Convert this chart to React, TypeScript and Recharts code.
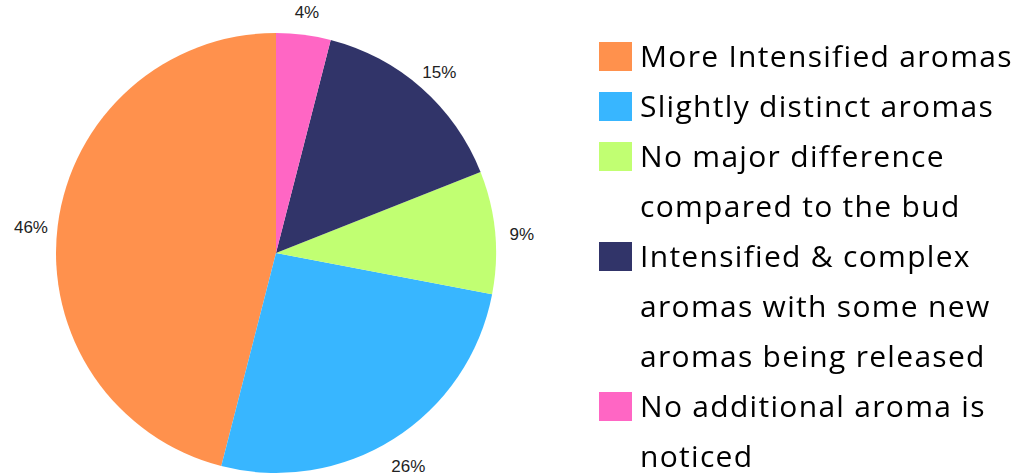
import { PieChart, Pie, Cell } from 'recharts';

const categories = [
  'More Intensified aromas',
  'Slightly distinct aromas',
  'No major difference compared to the bud',
  'Intensified & complex aromas with some new aromas being released',
  'No additional aroma is noticed',
];
const shares = [46, 26, 9, 15, 4];
const colors = ['#FF914D', '#38B6FF', '#C1FF72', '#313469', '#FF66C4'];

const data = categories.map((name, i) => ({ name, value: shares[i], fill: colors[i] }));

const RAD = Math.PI / 180;

// percent label just outside the rim
const renderLabel = (p: any) => {
  const r = p.outerRadius + 27;
  const x = p.cx + r * Math.cos(-p.midAngle * RAD);
  const y = p.cy + r * Math.sin(-p.midAngle * RAD) + 5;
  return (
    <text
      x={x}
      y={y}
      textAnchor="middle"
      dominantBaseline="central"
      fill="#222"
      fontSize={17}
      fontFamily="'Liberation Sans', Arial, sans-serif"
    >
      {`${p.value}%`}
    </text>
  );
};

export default function App() {
  return (
    <div style={{ position: 'fixed', left: 0, top: 0, width: 1027, height: 475, background: '#fff' }}>
      <PieChart
        width={580}
        height={475}
        margin={{ top: 0, right: 0, bottom: 0, left: 0 }}
        style={{ position: 'absolute', left: 0, top: 0 }}
      >
        <Pie
          data={data}
          dataKey="value"
          cx={276}
          cy={253}
          outerRadius={220}
          startAngle={90}
          endAngle={450}
          stroke="none"
          label={renderLabel}
          labelLine={false}
          isAnimationActive={false}
        >
          {data.map((d) => (
            <Cell key={d.name} fill={d.fill} />
          ))}
        </Pie>
      </PieChart>
      <div
        style={{
          position: 'absolute',
          left: 599,
          top: 31,
          width: 428,
          fontFamily: "'Open Sans', sans-serif",
          fontSize: 30,
          letterSpacing: 1.3,
          lineHeight: '50px',
          color: '#000',
        }}
      >
        {data.map((d) => (
          <div key={d.name} style={{ display: 'flex', alignItems: 'flex-start' }}>
            <span
              style={{
                display: 'inline-block',
                width: 33,
                height: 29,
                marginTop: 11,
                marginRight: 8,
                background: d.fill,
                flex: 'none',
              }}
            />
            <span style={{ width: 385 }}>{d.name}</span>
          </div>
        ))}
      </div>
    </div>
  );
}
